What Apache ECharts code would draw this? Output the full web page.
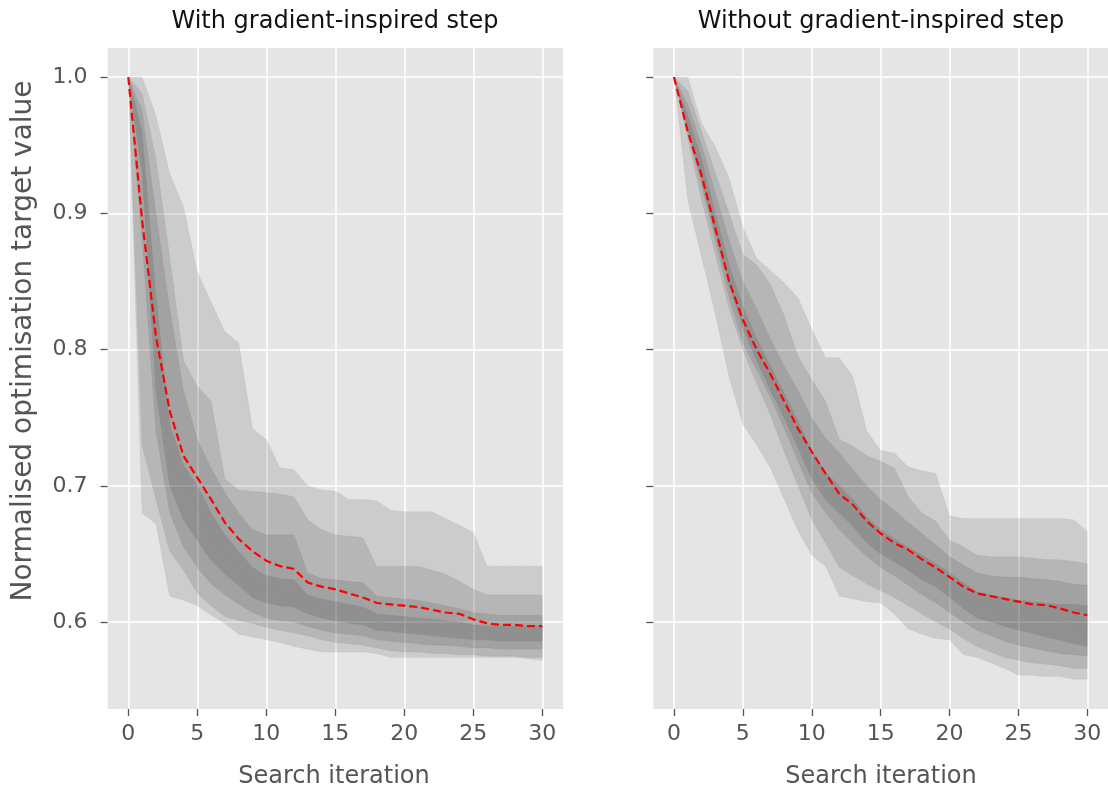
<!DOCTYPE html>
<html><head><meta charset="utf-8">
<script src="https://cdn.jsdelivr.net/npm/echarts@6/dist/echarts.min.js"></script>
<style>html,body{margin:0;padding:0;background:#fff}#c{width:1108px;height:793px}</style>
</head><body><div id="c"></div>
<script>
// ---------- data ----------
const iterations = [0,1,2,3,4,5,6,7,8,9,10,11,12,13,14,15,16,17,18,19,20,21,22,23,24,25,26,27,28,29,30];
const xTicks = [0,5,10,15,20,25,30];
const yTicks = [0.6,0.7,0.8,0.9,1.0];
const panelTitles = ['With gradient-inspired step','Without gradient-inspired step'];

// Panel 1: with gradient-inspired step
const withMean   = [1.0,0.895,0.81,0.755,0.722,0.706,0.69,0.673,0.661,0.652,0.645,0.641,0.639,0.629,0.626,0.624,0.621,0.618,0.614,0.613,0.612,0.611,0.609,0.607,0.606,0.602,0.599,0.598,0.598,0.597,0.597];
const withMedian = [1.0,0.945,0.80,0.722,0.70,0.687,0.665,0.65,0.64,0.628,0.624,0.622,0.621,0.613,0.61,0.608,0.606,0.604,0.600,0.599,0.598,0.597,0.596,0.595,0.594,0.593,0.593,0.592,0.592,0.592,0.592];
const withUpper1 = [1.0,1.0,0.972,0.929,0.905,0.857,0.835,0.813,0.805,0.742,0.734,0.713,0.712,0.700,0.697,0.696,0.690,0.690,0.689,0.682,0.681,0.681,0.681,0.676,0.671,0.666,0.641,0.641,0.641,0.641,0.641];
const withUpper2 = [1.0,0.988,0.94,0.868,0.792,0.773,0.762,0.705,0.697,0.696,0.695,0.694,0.692,0.675,0.668,0.664,0.663,0.662,0.641,0.641,0.641,0.641,0.638,0.635,0.630,0.624,0.620,0.620,0.620,0.620,0.620];
const withUpper3 = [1.0,0.975,0.90,0.83,0.77,0.734,0.713,0.695,0.680,0.668,0.664,0.664,0.664,0.636,0.632,0.631,0.630,0.629,0.619,0.618,0.617,0.616,0.614,0.612,0.610,0.607,0.606,0.605,0.605,0.605,0.605];
const withUpper4 = [1.0,0.96,0.84,0.745,0.715,0.70,0.68,0.664,0.652,0.64,0.634,0.632,0.631,0.62,0.617,0.615,0.613,0.611,0.606,0.605,0.604,0.603,0.602,0.601,0.600,0.598,0.597,0.597,0.597,0.597,0.597];
const withLower4 = [1.0,0.93,0.77,0.70,0.675,0.66,0.645,0.635,0.627,0.618,0.614,0.612,0.611,0.606,0.603,0.601,0.599,0.598,0.594,0.593,0.592,0.591,0.590,0.589,0.588,0.587,0.587,0.586,0.586,0.586,0.586];
const withLower3 = [1.0,0.88,0.74,0.68,0.655,0.64,0.628,0.62,0.613,0.607,0.603,0.601,0.600,0.597,0.594,0.592,0.591,0.590,0.587,0.586,0.585,0.584,0.583,0.583,0.582,0.581,0.581,0.580,0.580,0.580,0.580];
const withLower2 = [1.0,0.73,0.69,0.652,0.638,0.621,0.612,0.604,0.601,0.599,0.596,0.594,0.592,0.590,0.587,0.585,0.584,0.583,0.581,0.579,0.578,0.578,0.577,0.577,0.576,0.576,0.575,0.575,0.575,0.574,0.574];
const withLower1 = [1.0,0.68,0.672,0.619,0.616,0.612,0.605,0.599,0.591,0.589,0.587,0.585,0.582,0.580,0.578,0.578,0.578,0.578,0.577,0.574,0.574,0.574,0.574,0.574,0.574,0.574,0.574,0.574,0.574,0.573,0.572];

// Panel 2: without gradient-inspired step
const withoutMean   = [1.0,0.96,0.928,0.889,0.85,0.822,0.80,0.782,0.762,0.742,0.725,0.709,0.694,0.686,0.674,0.665,0.658,0.653,0.646,0.64,0.633,0.626,0.621,0.619,0.617,0.615,0.613,0.6125,0.61,0.607,0.605];
const withoutMedian = [1.0,0.965,0.93,0.89,0.85,0.82,0.795,0.775,0.755,0.735,0.712,0.698,0.689,0.678,0.665,0.657,0.651,0.645,0.639,0.634,0.627,0.619,0.613,0.611,0.609,0.607,0.605,0.603,0.601,0.598,0.596];
const withoutUpper1 = [1.0,1.0,0.966,0.949,0.926,0.89,0.867,0.858,0.849,0.838,0.815,0.794,0.794,0.78,0.74,0.726,0.724,0.714,0.711,0.709,0.678,0.676,0.676,0.676,0.676,0.676,0.676,0.676,0.676,0.675,0.6665];
const withoutUpper2 = [1.0,0.99,0.96,0.93,0.90,0.87,0.862,0.848,0.825,0.795,0.778,0.762,0.734,0.729,0.722,0.718,0.713,0.692,0.680,0.674,0.66,0.655,0.649,0.648,0.648,0.648,0.647,0.646,0.6457,0.6445,0.643];
const withoutUpper3 = [1.0,0.98,0.95,0.915,0.88,0.85,0.83,0.808,0.788,0.77,0.75,0.735,0.724,0.712,0.70,0.69,0.682,0.673,0.665,0.657,0.648,0.642,0.636,0.634,0.633,0.633,0.632,0.631,0.63,0.628,0.627];
const withoutUpper4 = [1.0,0.972,0.94,0.90,0.862,0.832,0.808,0.788,0.768,0.748,0.726,0.71,0.70,0.69,0.677,0.668,0.661,0.655,0.649,0.643,0.636,0.629,0.622,0.62,0.618,0.616,0.615,0.614,0.613,0.613,0.612];
const withoutLower4 = [1.0,0.963,0.925,0.885,0.848,0.815,0.792,0.77,0.75,0.728,0.705,0.69,0.68,0.67,0.658,0.65,0.644,0.638,0.631,0.626,0.618,0.61,0.603,0.60,0.597,0.594,0.592,0.589,0.587,0.584,0.582];
const withoutLower3 = [1.0,0.96,0.92,0.88,0.838,0.805,0.785,0.765,0.742,0.718,0.695,0.68,0.668,0.658,0.648,0.64,0.634,0.627,0.62,0.614,0.607,0.60,0.594,0.59,0.586,0.583,0.581,0.579,0.577,0.576,0.575];
const withoutLower2 = [1.0,0.955,0.91,0.87,0.83,0.80,0.775,0.752,0.725,0.70,0.675,0.658,0.64,0.634,0.628,0.623,0.618,0.612,0.606,0.60,0.595,0.588,0.582,0.578,0.574,0.572,0.57,0.569,0.568,0.566,0.566];
const withoutLower1 = [1.0,0.91,0.868,0.826,0.78,0.745,0.73,0.713,0.69,0.667,0.649,0.641,0.619,0.617,0.615,0.614,0.606,0.595,0.591,0.588,0.587,0.576,0.574,0.570,0.566,0.561,0.561,0.560,0.560,0.558,0.558];

// ---------- chart ----------
const panels = [
  {mean: withMean, median: withMedian,
   bands: [[withLower1,withUpper1],[withLower2,withUpper2],[withLower3,withUpper3],[withLower4,withUpper4]]},
  {mean: withoutMean, median: withoutMedian,
   bands: [[withoutLower1,withoutUpper1],[withoutLower2,withoutUpper2],[withoutLower3,withoutUpper3],[withoutLower4,withoutUpper4]]}
];

const FONT = '"DejaVu Sans", sans-serif';
const grids = [
  {left: 107.6, top: 48, width: 455.4, height: 661},
  {left: 653.3, top: 48, width: 455.4, height: 661}
];
const gridOpts = grids.map(g => Object.assign({show: true, backgroundColor: '#E5E5E5', borderWidth: 0, containLabel: false}, g));

const xAxes = grids.map((g, i) => ({
  type: 'value', gridIndex: i, min: -1.5, max: 31.5,
  axisLine: {show: false, onZero: false},
  axisTick: {show: true, length: 7, lineStyle: {color: '#555', width: 1.3}, customValues: xTicks},
  axisLabel: {color: '#555', fontSize: 22, fontFamily: FONT, margin: 14, customValues: xTicks},
  splitLine: {show: true, lineStyle: {color: '#fff', width: 1.6}}
}));
const yAxes = grids.map((g, i) => ({
  type: 'value', gridIndex: i, min: 0.5362, max: 1.0213,
  axisLine: {show: false, onZero: false},
  axisTick: {show: true, length: 7, lineStyle: {color: '#555', width: 1.3}, customValues: yTicks},
  axisLabel: {show: i === 0, color: '#555', fontSize: 22, fontFamily: FONT, margin: 20, customValues: yTicks,
              formatter: v => v.toFixed(1)},
  splitLine: {show: true, lineStyle: {color: '#fff', width: 1.6}}
}));

const series = [];
panels.forEach((p, pi) => {
  p.bands.forEach((b, bi) => {
    const lower = b[0], upper = b[1];
    series.push({
      type: 'custom', xAxisIndex: pi, yAxisIndex: pi, silent: true, z: 2,
      data: [[iterations[0], upper[0]]],
      renderItem: function (params, api) {
        const pts = [];
        for (let k = 0; k < iterations.length; k++) pts.push(api.coord([iterations[k], upper[k]]));
        for (let k = iterations.length - 1; k >= 0; k--) pts.push(api.coord([iterations[k], lower[k]]));
        return {type: 'polygon', shape: {points: pts}, style: {fill: 'rgba(0,0,0,0.105)', stroke: 'rgba(0,0,0,0.05)', lineWidth: 0.8}};
      }
    });
  });
  series.push({
    type: 'line', xAxisIndex: pi, yAxisIndex: pi, symbol: 'none', silent: true, z: 3,
    lineStyle: {color: '#8c8c8c', width: 1, opacity: 0.6},
    data: iterations.map((x, k) => [x, p.median[k]])
  });
  series.push({
    type: 'line', xAxisIndex: pi, yAxisIndex: pi, symbol: 'none', silent: true, z: 4,
    lineStyle: {color: '#ff0000', width: 2.2, type: [8, 4]},
    data: iterations.map((x, k) => [x, p.mean[k]])
  });
});

const graphic = [
  {type: 'text', x: 335, y: 22, style: {text: panelTitles[0], fill: '#111', fontSize: 24, fontFamily: FONT, align: 'center', verticalAlign: 'middle'}},
  {type: 'text', x: 881, y: 22, style: {text: panelTitles[1], fill: '#111', fontSize: 24, fontFamily: FONT, align: 'center', verticalAlign: 'middle'}},
  {type: 'text', x: 334, y: 777, style: {text: 'Search iteration', fill: '#555', fontSize: 24, fontFamily: FONT, align: 'center', verticalAlign: 'middle'}},
  {type: 'text', x: 881, y: 777, style: {text: 'Search iteration', fill: '#555', fontSize: 24, fontFamily: FONT, align: 'center', verticalAlign: 'middle'}},
  {type: 'text', x: 24, y: 341, rotation: Math.PI / 2, style: {text: 'Normalised optimisation target value', fill: '#555', fontSize: 28, fontFamily: FONT, align: 'center', verticalAlign: 'middle'}}
];

const chart = echarts.init(document.getElementById('c'), null, {renderer: 'canvas'});
chart.setOption({
  animation: false,
  backgroundColor: '#fff',
  grid: gridOpts,
  xAxis: xAxes,
  yAxis: yAxes,
  series: series,
  graphic: graphic
});
</script>
</body></html>
